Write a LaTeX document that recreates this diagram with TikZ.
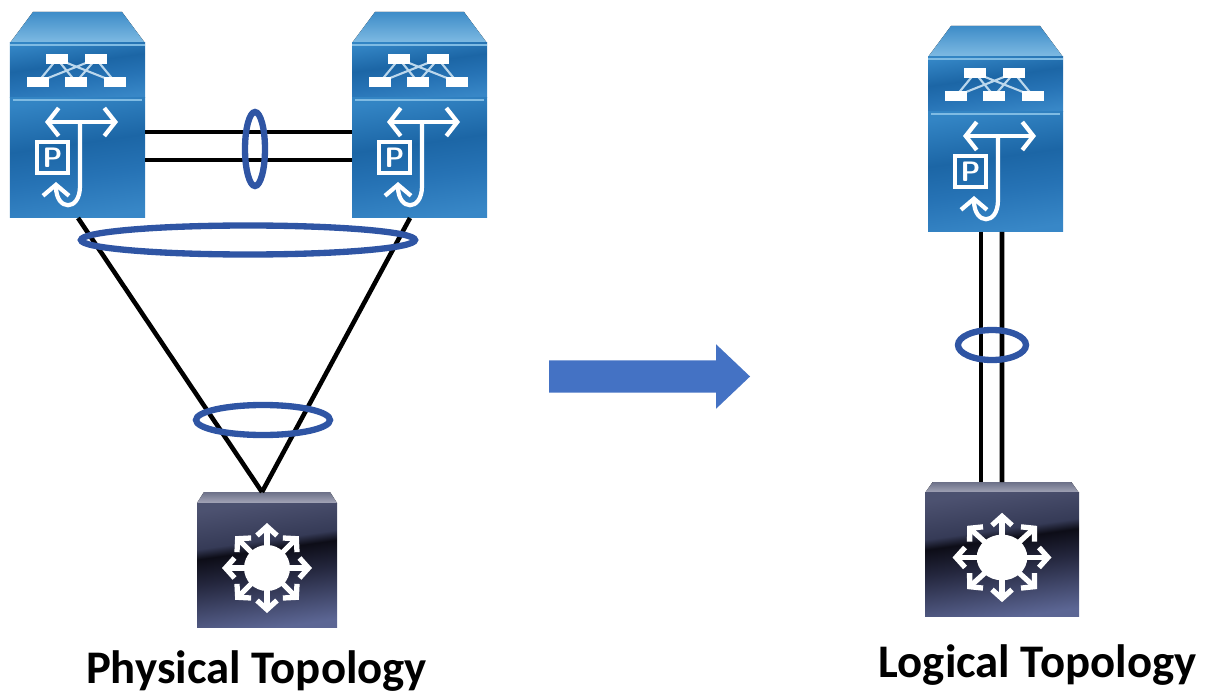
\documentclass[tikz,border=0pt]{standalone}
\usepackage{fontspec}
\setmainfont{Carlito}
\usetikzlibrary{shapes,arrows.meta,positioning,calc}

\definecolor{ringblue}{HTML}{2F55A4}
\definecolor{arrowblue}{HTML}{4472C4}
\definecolor{roofblue}{HTML}{3E8CC8}
\definecolor{edgeblue}{HTML}{7FBBE3}
\definecolor{liptop}{HTML}{6C7088}
\definecolor{lipbottom}{HTML}{A4A6B8}

\pgfdeclareverticalshading{darkbody}{100bp}{
	rgb(0bp)=(0.36,0.40,0.58); rgb(25bp)=(0.36,0.40,0.58); rgb(46bp)=(0.14,0.15,0.24); rgb(56bp)=(0.05,0.05,0.09);
	rgb(60bp)=(0.21,0.23,0.34); rgb(75bp)=(0.30,0.32,0.44); rgb(100bp)=(0.30,0.32,0.44)}
\pgfdeclareverticalshading{bluepanel}{100bp}{
	rgb(0bp)=(0.22,0.53,0.78); rgb(25bp)=(0.22,0.53,0.78); rgb(42bp)=(0.15,0.45,0.71);
	rgb(56bp)=(0.11,0.40,0.65); rgb(75bp)=(0.20,0.52,0.77); rgb(100bp)=(0.20,0.52,0.77)}

\tikzset{
	devbox/.style={inner sep=0pt,outer sep=0pt},
	link/.style={draw=black,line width=1.3pt},
	ring/.style={ellipse,draw=ringblue,line width=1.8pt,inner sep=0pt},
	glyph/.style={draw=white,line width=1.2pt},
	caption/.style={inner sep=0pt,anchor=base,font=\bfseries\fontsize{13.3}{14}\selectfont},
	bigarrow/.style={single arrow,fill=arrowblue,inner xsep=0pt,inner ysep=0.155cm,minimum width=0.63cm,
		minimum height=2.01cm,single arrow head extend=0.16cm,single arrow tip angle=87},
	pics/mlswitch/.style={code={
		% roof and the two panels
		\fill[top color=roofblue,bottom color=edgeblue] (0.23,0) -- (1.12,0) -- (1.35,-0.31) -- (0,-0.31) -- cycle;
		\shade[shading=bluepanel,shading angle=8] (0,-0.31) rectangle (1.35,-0.86);
		\shade[shading=bluepanel,shading angle=8] (0,-0.86) rectangle (1.35,-2.06);
		\draw[edgeblue,line width=0.8pt] (0,-0.33) -- (1.35,-0.33);
		\draw[edgeblue,line width=0.6pt] (0.03,-0.88) -- (1.32,-0.88);
		% mesh of boxes
		\draw[white!65!roofblue,line width=0.6pt] (0.47,-0.47) -- (0.28,-0.70) (0.47,-0.47) -- (0.66,-0.70)
			(0.47,-0.47) -- (1.05,-0.70) (0.86,-0.47) -- (0.28,-0.70) (0.86,-0.47) -- (0.66,-0.70) (0.86,-0.47) -- (1.05,-0.70);
		\foreach \cx/\cy in {0.47/-0.47,0.86/-0.47,0.28/-0.70,0.66/-0.70,1.05/-0.70}
			\fill[white] (\cx-0.11,\cy-0.05) rectangle (\cx+0.11,\cy+0.05);
		% forwarding arrows
		\draw[glyph,{Straight Barb[length=0.11cm,width=0.28cm]}-{Straight Barb[length=0.11cm,width=0.28cm]}] (0.35,-1.10) -- (1.08,-1.10);
		\draw[glyph,-{Straight Barb[length=0.11cm,width=0.26cm]}] (0.70,-1.10) -- (0.70,-1.74) .. controls (0.70,-2.00) and (0.46,-1.99) .. (0.46,-1.70);
		\draw[glyph,line width=0.9pt] (0.27,-1.30) rectangle (0.58,-1.61);
		\node[white,font=\sffamily\bfseries\footnotesize,inner sep=0pt] at (0.425,-1.455) {P};
	}},
	pics/l3switch/.style={code={
		% body with its arrows
		\fill[top color=liptop,bottom color=lipbottom] (0.07,0) -- (1.33,0) -- (1.40,-0.11) -- (0,-0.11) -- cycle;
		\shade[shading=darkbody,shading angle=8] (0,-0.11) rectangle (1.40,-1.35);
		\fill[white] (0.70,-0.76) circle (0.23);
		\foreach \ang in {0,45,...,315}
			\draw[white,line width=1.5pt,-{Straight Barb[length=0.09cm,width=0.2cm]}] (0.70,-0.76) ++(\ang:0.2) -- ++(\ang:0.25);
	}}
}

\begin{document}
\begin{tikzpicture}
	\useasboundingbox (0,0) rectangle (12.07,-6.93);
	
	\node[devbox,minimum width=1.35cm,minimum height=2.06cm] (swa) at (0.775,-1.15) {};
	\node[devbox,minimum width=1.35cm,minimum height=2.06cm] (swb) at (4.195,-1.15) {};
	\node[devbox,minimum width=1.35cm,minimum height=2.06cm] (swc) at (9.955,-1.29) {};
	\node[devbox,minimum width=1.40cm,minimum height=1.35cm] (dista) at (2.67,-5.595) {};
	\node[devbox,minimum width=1.54cm,minimum height=1.34cm] (distb) at (10.02,-5.49) {};
	
	\pic at (swa.north west) {mlswitch};
	\pic at (swb.north west) {mlswitch};
	\pic at (swc.north west) {mlswitch};
	\pic at (dista.north west) {l3switch};
	\pic[xscale=1.1,yscale=0.993] at (distb.north west) {l3switch};
	
	% physical links
	\draw[link] ($(swa.east)+(0,-0.17)$) -- ($(swb.west)+(0,-0.17)$);
	\draw[link] ($(swa.east)+(0,-0.45)$) -- ($(swb.west)+(0,-0.45)$);
	\draw[link] ($(swa.south west)+(0.68,0)$) -- ($(dista.north)+(-0.05,0)$);
	\draw[link] ($(swb.south west)+(0.58,0)$) -- ($(dista.north)+(-0.05,0)$);
	% logical links
	\draw[link] ($(swc.south)+(-0.145,0)$) -- ($(distb.north)+(-0.21,0)$);
	\draw[link] ($(swc.south)+(0.065,0)$) -- ($(distb.north)+(0,0)$);
	
	\node[ring,minimum width=0.20cm,minimum height=0.74cm] (ringa) at (2.55,-1.49) {};
	\node[ring,minimum width=3.34cm,minimum height=0.29cm] (ringb) at (2.48,-2.40) {};
	\node[ring,minimum width=1.34cm,minimum height=0.30cm] (ringc) at (2.63,-4.20) {};
	\node[ring,minimum width=0.68cm,minimum height=0.30cm] (ringd) at (9.92,-3.45) {};
	
	\node[bigarrow] (move) at (6.41,-3.765) {};
	
	\node[caption] (physlabel) at (2.565,-6.83) {Physical Topology};
	\node[caption] (logilabel) at (10.375,-6.77) {Logical Topology};
	
\end{tikzpicture}
\end{document}
